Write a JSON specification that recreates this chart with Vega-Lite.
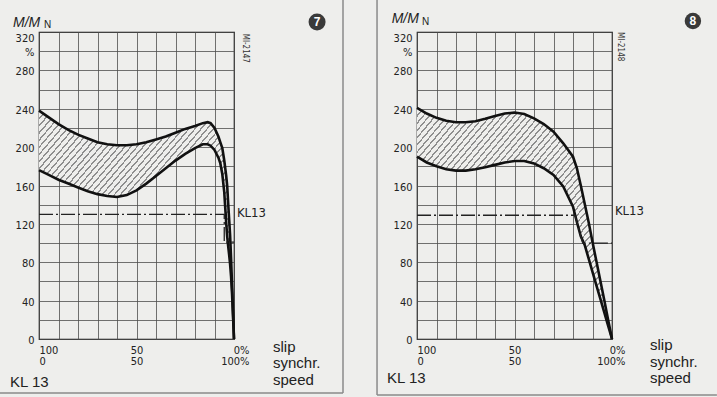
{
  "$schema": "https://vega.github.io/schema/vega-lite/v6.json",
  "autosize": {"type": "none"},
  "padding": {"left": 39, "top": 32, "right": 678, "bottom": 365},
  "background": "#eeeeec",
  "spacing": 183,
  "bounds": "flush",
  "datasets": {
    "left": [
      {"s": 0, "hi": 238, "lo": 176}, {"s": 5, "hi": 231, "lo": 171}, {"s": 10, "hi": 224, "lo": 166},
      {"s": 15, "hi": 218, "lo": 162}, {"s": 20, "hi": 213, "lo": 158}, {"s": 25, "hi": 209, "lo": 154},
      {"s": 30, "hi": 205, "lo": 151}, {"s": 35, "hi": 203, "lo": 149}, {"s": 40, "hi": 202, "lo": 148},
      {"s": 45, "hi": 202, "lo": 150}, {"s": 50, "hi": 203, "lo": 155}, {"s": 55, "hi": 205, "lo": 162},
      {"s": 60, "hi": 208, "lo": 170}, {"s": 65, "hi": 211, "lo": 178}, {"s": 70, "hi": 215, "lo": 186},
      {"s": 75, "hi": 219, "lo": 193}, {"s": 80, "hi": 222, "lo": 199}, {"s": 84, "hi": 225, "lo": 203},
      {"s": 86.5, "hi": 226, "lo": 203}, {"s": 88, "hi": 225, "lo": 201.5}, {"s": 90, "hi": 220, "lo": 197},
      {"s": 92, "hi": 211, "lo": 189}, {"s": 93, "hi": 205, "lo": 183}, {"s": 94, "hi": 199, "lo": 172},
      {"s": 95, "hi": 186, "lo": 153}, {"s": 96, "hi": 170, "lo": 121}, {"s": 96.5, "hi": 160, "lo": 107},
      {"s": 97, "hi": 142, "lo": 97}, {"s": 97.5, "hi": 125, "lo": 88}, {"s": 98, "hi": 108, "lo": 78},
      {"s": 98.5, "hi": 84, "lo": 65}, {"s": 99, "hi": 56, "lo": 47}, {"s": 99.5, "hi": 28, "lo": 24},
      {"s": 100, "hi": 0, "lo": 0}
    ],
    "right": [
      {"s": 0, "hi": 241, "lo": 190}, {"s": 5, "hi": 235, "lo": 184}, {"s": 10, "hi": 230.5, "lo": 180},
      {"s": 15, "hi": 227.5, "lo": 177}, {"s": 20, "hi": 226, "lo": 175.5}, {"s": 25, "hi": 226, "lo": 175.5},
      {"s": 30, "hi": 227, "lo": 177}, {"s": 35, "hi": 229.5, "lo": 179}, {"s": 40, "hi": 232.5, "lo": 181.5},
      {"s": 45, "hi": 235, "lo": 184}, {"s": 50, "hi": 236, "lo": 185.5}, {"s": 55, "hi": 234.5, "lo": 185.5},
      {"s": 60, "hi": 230, "lo": 183}, {"s": 65, "hi": 224, "lo": 178}, {"s": 70, "hi": 216, "lo": 171},
      {"s": 75, "hi": 204, "lo": 159}, {"s": 80, "hi": 190, "lo": 138}, {"s": 82, "hi": 178, "lo": 122},
      {"s": 84, "hi": 160, "lo": 107}, {"s": 86, "hi": 141, "lo": 98}, {"s": 88, "hi": 122, "lo": 84},
      {"s": 90, "hi": 101, "lo": 70}, {"s": 92, "hi": 81, "lo": 56}, {"s": 94, "hi": 61, "lo": 42},
      {"s": 96, "hi": 41, "lo": 28}, {"s": 98, "hi": 20, "lo": 14}, {"s": 100, "hi": 0, "lo": 0}
    ],
    "leftkl": [
      {"i": 0, "s": 0, "m": 130}, {"i": 1, "s": 95, "m": 130}, {"i": 2, "s": 95, "m": 101}, {"i": 3, "s": 100, "m": 101}
    ],
    "rightkl": [
      {"i": 0, "s": 0, "m": 129}, {"i": 1, "s": 81, "m": 129}, {"i": 2, "s": 85, "m": 100}, {"i": 3, "s": 100, "m": 100}
    ],
    "one": [{}]
  },
  "hconcat": [
    {
      "width": 195,
      "height": 307,
      "data": {"name": "left"},
      "layer": [
        {
          "mark": {"type": "area"},
          "encoding": {
            "x": {"field": "s", "type": "quantitative", "scale": {"domain": [0, 100], "nice": false, "zero": false},
              "axis": {
                "labelAlign": {"condition": [{"test": "datum.value == 0", "value": "left"}, {"test": "datum.value == 100", "value": "right"}], "value": "center"},
                "labelOffset": {"condition": {"test": "datum.value == 100", "value": 15}, "value": 0}
              }},
            "y": {"field": "hi", "type": "quantitative", "scale": {"domain": [0, 320], "nice": false, "zero": false},
              "axis": {
                "labelBaseline": {"condition": {"test": "datum.value == 320", "value": "top"}, "value": "middle"},
                "labelOffset": {"condition": {"test": "datum.value == 320", "value": 0}, "value": 1.5}
              }},
            "y2": {"field": "lo"}
          }
        },
        {
          "mark": {"type": "line", "color": "#111111", "strokeWidth": 2.6},
          "encoding": {"x": {"field": "s", "type": "quantitative"}, "y": {"field": "hi", "type": "quantitative"}}
        },
        {
          "mark": {"type": "line", "color": "#111111", "strokeWidth": 2.6},
          "encoding": {"x": {"field": "s", "type": "quantitative"}, "y": {"field": "lo", "type": "quantitative"}}
        },
        {
          "data": {"name": "leftkl"},
          "mark": {"type": "line", "color": "#222222", "strokeWidth": 1.3, "strokeDash": [14, 3, 2, 3]},
          "encoding": {"x": {"field": "s", "type": "quantitative"}, "y": {"field": "m", "type": "quantitative"}, "order": {"field": "i"}}
        },
        {
          "data": {"name": "one"},
          "mark": {"type": "text", "text": "KL13", "align": "left", "baseline": "alphabetic", "font": "Liberation Sans Narrow, DejaVu Sans Condensed, sans-serif", "fontSize": 13, "color": "#222"},
          "encoding": {"x": {"datum": 101.5, "type": "quantitative"}, "y": {"datum": 126.8, "type": "quantitative"}}
        },
        {
          "data": {"name": "one"},
          "mark": {"type": "text", "text": ["slip", "synchr.", "speed"], "align": "left", "baseline": "alphabetic", "font": "Liberation Sans, Arial, sans-serif", "fontSize": 15, "lineHeight": 16.5, "color": "#222"},
          "encoding": {"x": {"datum": 120, "type": "quantitative"}, "y": {"datum": -13.2, "type": "quantitative"}}
        },
        {
          "data": {"name": "one"},
          "mark": {"type": "text", "text": "KL 13", "align": "left", "baseline": "alphabetic", "font": "Liberation Sans, Arial, sans-serif", "fontSize": 15, "color": "#222"},
          "encoding": {"x": {"datum": -14.9, "type": "quantitative"}, "y": {"datum": -49.7, "type": "quantitative"}}
        },
        {
          "data": {"name": "one"},
          "mark": {"type": "text", "text": "M/M", "align": "left", "baseline": "alphabetic", "font": "Liberation Sans, Arial, sans-serif", "fontStyle": "italic", "fontSize": 14, "color": "#222"},
          "encoding": {"x": {"datum": -13.3, "type": "quantitative"}, "y": {"datum": 325.5, "type": "quantitative"}}
        },
        {
          "data": {"name": "one"},
          "mark": {"type": "text", "text": "N", "align": "left", "baseline": "alphabetic", "font": "Liberation Sans, Arial, sans-serif", "fontSize": 10, "color": "#222"},
          "encoding": {"x": {"datum": 2.6, "type": "quantitative"}, "y": {"datum": 323.8, "type": "quantitative"}}
        },
        {
          "data": {"name": "one"},
          "mark": {"type": "text", "text": "MI-2147", "align": "center", "baseline": "middle", "angle": 90, "font": "Liberation Sans Narrow, DejaVu Sans Condensed, sans-serif", "fontSize": 8, "color": "#333"},
          "encoding": {"x": {"datum": 105.6, "type": "quantitative"}, "y": {"datum": 303, "type": "quantitative"}}
        },
        {
          "data": {"name": "one"},
          "mark": {"type": "point", "shape": "circle", "filled": true, "size": 290, "color": "#3a3a3a", "opacity": 1},
          "encoding": {"x": {"datum": 142.6, "type": "quantitative"}, "y": {"datum": 330.4, "type": "quantitative"}}
        },
        {
          "data": {"name": "one"},
          "mark": {"type": "text", "text": "7", "align": "center", "baseline": "middle", "font": "Liberation Sans, Arial, sans-serif", "fontSize": 12, "fontWeight": "bold", "color": "#ffffff"},
          "encoding": {"x": {"datum": 142.6, "type": "quantitative"}, "y": {"datum": 330.4, "type": "quantitative"}}
        },
        {
          "data": {"name": "one"},
          "mark": {"type": "rule", "color": "#8a8a8a", "strokeWidth": 1.5},
          "encoding": {"x": {"datum": 155.9, "type": "quantitative"}, "y": {"datum": 353.3, "type": "quantitative"}, "y2": {"datum": -56.3}}
        },
        {
          "data": {"name": "one"},
          "mark": {"type": "rule", "color": "#8a8a8a", "strokeWidth": 1.5},
          "encoding": {"x": {"datum": -20, "type": "quantitative"}, "x2": {"datum": 155.9}, "y": {"datum": -56.3, "type": "quantitative"}}
        }
      ]
    },
    {
      "width": 195,
      "height": 307,
      "data": {"name": "right"},
      "layer": [
        {
          "mark": {"type": "area"},
          "encoding": {
            "x": {"field": "s", "type": "quantitative", "scale": {"domain": [0, 100], "nice": false, "zero": false},
              "axis": {
                "labelAlign": {"condition": [{"test": "datum.value == 0", "value": "left"}, {"test": "datum.value == 100", "value": "right"}], "value": "center"},
                "labelOffset": {"condition": {"test": "datum.value == 100", "value": 13}, "value": 0}
              }},
            "y": {"field": "hi", "type": "quantitative", "scale": {"domain": [0, 320], "nice": false, "zero": false},
              "axis": {
                "labelBaseline": {"condition": {"test": "datum.value == 320", "value": "top"}, "value": "middle"},
                "labelOffset": {"condition": {"test": "datum.value == 320", "value": 0}, "value": 1.5}
              }},
            "y2": {"field": "lo"}
          }
        },
        {
          "mark": {"type": "line", "color": "#111111", "strokeWidth": 2.6},
          "encoding": {"x": {"field": "s", "type": "quantitative"}, "y": {"field": "hi", "type": "quantitative"}}
        },
        {
          "mark": {"type": "line", "color": "#111111", "strokeWidth": 2.6},
          "encoding": {"x": {"field": "s", "type": "quantitative"}, "y": {"field": "lo", "type": "quantitative"}}
        },
        {
          "data": {"name": "rightkl"},
          "mark": {"type": "line", "color": "#222222", "strokeWidth": 1.3, "strokeDash": [14, 3, 2, 3]},
          "encoding": {"x": {"field": "s", "type": "quantitative"}, "y": {"field": "m", "type": "quantitative"}, "order": {"field": "i"}}
        },
        {
          "data": {"name": "one"},
          "mark": {"type": "text", "text": "KL13", "align": "left", "baseline": "alphabetic", "font": "Liberation Sans Narrow, DejaVu Sans Condensed, sans-serif", "fontSize": 13, "color": "#222"},
          "encoding": {"x": {"datum": 101.5, "type": "quantitative"}, "y": {"datum": 129.2, "type": "quantitative"}}
        },
        {
          "data": {"name": "one"},
          "mark": {"type": "text", "text": ["slip", "synchr.", "speed"], "align": "left", "baseline": "alphabetic", "font": "Liberation Sans, Arial, sans-serif", "fontSize": 15, "lineHeight": 16.5, "color": "#222"},
          "encoding": {"x": {"datum": 119.5, "type": "quantitative"}, "y": {"datum": -11.5, "type": "quantitative"}}
        },
        {
          "data": {"name": "one"},
          "mark": {"type": "text", "text": "KL 13", "align": "left", "baseline": "alphabetic", "font": "Liberation Sans, Arial, sans-serif", "fontSize": 15, "color": "#222"},
          "encoding": {"x": {"datum": -15.4, "type": "quantitative"}, "y": {"datum": -46.2, "type": "quantitative"}}
        },
        {
          "data": {"name": "one"},
          "mark": {"type": "text", "text": "M/M", "align": "left", "baseline": "alphabetic", "font": "Liberation Sans, Arial, sans-serif", "fontStyle": "italic", "fontSize": 14, "color": "#222"},
          "encoding": {"x": {"datum": -13, "type": "quantitative"}, "y": {"datum": 329, "type": "quantitative"}}
        },
        {
          "data": {"name": "one"},
          "mark": {"type": "text", "text": "N", "align": "left", "baseline": "alphabetic", "font": "Liberation Sans, Arial, sans-serif", "fontSize": 10, "color": "#222"},
          "encoding": {"x": {"datum": 2.6, "type": "quantitative"}, "y": {"datum": 327.3, "type": "quantitative"}}
        },
        {
          "data": {"name": "one"},
          "mark": {"type": "text", "text": "MI-2148", "align": "center", "baseline": "middle", "angle": 90, "font": "Liberation Sans Narrow, DejaVu Sans Condensed, sans-serif", "fontSize": 8, "color": "#333"},
          "encoding": {"x": {"datum": 104.1, "type": "quantitative"}, "y": {"datum": 304.7, "type": "quantitative"}}
        },
        {
          "data": {"name": "one"},
          "mark": {"type": "point", "shape": "circle", "filled": true, "size": 270, "color": "#3a3a3a", "opacity": 1},
          "encoding": {"x": {"datum": 141.5, "type": "quantitative"}, "y": {"datum": 331.5, "type": "quantitative"}}
        },
        {
          "data": {"name": "one"},
          "mark": {"type": "text", "text": "8", "align": "center", "baseline": "middle", "font": "Liberation Sans, Arial, sans-serif", "fontSize": 12, "fontWeight": "bold", "color": "#ffffff"},
          "encoding": {"x": {"datum": 141.5, "type": "quantitative"}, "y": {"datum": 331.5, "type": "quantitative"}}
        },
        {
          "data": {"name": "one"},
          "mark": {"type": "rule", "color": "#8a8a8a", "strokeWidth": 1.5},
          "encoding": {"x": {"datum": -20.5, "type": "quantitative"}, "y": {"datum": 353.3, "type": "quantitative"}, "y2": {"datum": -58.4}}
        },
        {
          "data": {"name": "one"},
          "mark": {"type": "rule", "color": "#8a8a8a", "strokeWidth": 1.5},
          "encoding": {"x": {"datum": -20.5, "type": "quantitative"}, "x2": {"datum": 153.8}, "y": {"datum": -58.4, "type": "quantitative"}}
        }
      ]
    }
  ],
  "config": {
    "view": {"stroke": "#111111", "strokeWidth": 1.2},
    "area": {"opacity": 1, "color": {"gradient": "linear", "x1": 0, "y1": 0, "x2": 1, "y2": 1, "stops": [
      {"offset": 0, "color": "#8e8e8e"}, {"offset": 0.0045, "color": "#8e8e8e"}, {"offset": 0.0045, "color": "#eeeeec"}, {"offset": 0.015625, "color": "#eeeeec"},
      {"offset": 0.015625, "color": "#8e8e8e"}, {"offset": 0.020125, "color": "#8e8e8e"}, {"offset": 0.020125, "color": "#eeeeec"}, {"offset": 0.03125, "color": "#eeeeec"},
      {"offset": 0.03125, "color": "#8e8e8e"}, {"offset": 0.03575, "color": "#8e8e8e"}, {"offset": 0.03575, "color": "#eeeeec"}, {"offset": 0.046875, "color": "#eeeeec"},
      {"offset": 0.046875, "color": "#8e8e8e"}, {"offset": 0.051375, "color": "#8e8e8e"}, {"offset": 0.051375, "color": "#eeeeec"}, {"offset": 0.0625, "color": "#eeeeec"},
      {"offset": 0.0625, "color": "#8e8e8e"}, {"offset": 0.067, "color": "#8e8e8e"}, {"offset": 0.067, "color": "#eeeeec"}, {"offset": 0.078125, "color": "#eeeeec"},
      {"offset": 0.078125, "color": "#8e8e8e"}, {"offset": 0.082625, "color": "#8e8e8e"}, {"offset": 0.082625, "color": "#eeeeec"}, {"offset": 0.09375, "color": "#eeeeec"},
      {"offset": 0.09375, "color": "#8e8e8e"}, {"offset": 0.09825, "color": "#8e8e8e"}, {"offset": 0.09825, "color": "#eeeeec"}, {"offset": 0.109375, "color": "#eeeeec"},
      {"offset": 0.109375, "color": "#8e8e8e"}, {"offset": 0.113875, "color": "#8e8e8e"}, {"offset": 0.113875, "color": "#eeeeec"}, {"offset": 0.125, "color": "#eeeeec"},
      {"offset": 0.125, "color": "#8e8e8e"}, {"offset": 0.1295, "color": "#8e8e8e"}, {"offset": 0.1295, "color": "#eeeeec"}, {"offset": 0.140625, "color": "#eeeeec"},
      {"offset": 0.140625, "color": "#8e8e8e"}, {"offset": 0.145125, "color": "#8e8e8e"}, {"offset": 0.145125, "color": "#eeeeec"}, {"offset": 0.15625, "color": "#eeeeec"},
      {"offset": 0.15625, "color": "#8e8e8e"}, {"offset": 0.16075, "color": "#8e8e8e"}, {"offset": 0.16075, "color": "#eeeeec"}, {"offset": 0.171875, "color": "#eeeeec"},
      {"offset": 0.171875, "color": "#8e8e8e"}, {"offset": 0.176375, "color": "#8e8e8e"}, {"offset": 0.176375, "color": "#eeeeec"}, {"offset": 0.1875, "color": "#eeeeec"},
      {"offset": 0.1875, "color": "#8e8e8e"}, {"offset": 0.192, "color": "#8e8e8e"}, {"offset": 0.192, "color": "#eeeeec"}, {"offset": 0.203125, "color": "#eeeeec"},
      {"offset": 0.203125, "color": "#8e8e8e"}, {"offset": 0.207625, "color": "#8e8e8e"}, {"offset": 0.207625, "color": "#eeeeec"}, {"offset": 0.21875, "color": "#eeeeec"},
      {"offset": 0.21875, "color": "#8e8e8e"}, {"offset": 0.22325, "color": "#8e8e8e"}, {"offset": 0.22325, "color": "#eeeeec"}, {"offset": 0.234375, "color": "#eeeeec"},
      {"offset": 0.234375, "color": "#8e8e8e"}, {"offset": 0.238875, "color": "#8e8e8e"}, {"offset": 0.238875, "color": "#eeeeec"}, {"offset": 0.25, "color": "#eeeeec"},
      {"offset": 0.25, "color": "#8e8e8e"}, {"offset": 0.2545, "color": "#8e8e8e"}, {"offset": 0.2545, "color": "#eeeeec"}, {"offset": 0.265625, "color": "#eeeeec"},
      {"offset": 0.265625, "color": "#8e8e8e"}, {"offset": 0.270125, "color": "#8e8e8e"}, {"offset": 0.270125, "color": "#eeeeec"}, {"offset": 0.28125, "color": "#eeeeec"},
      {"offset": 0.28125, "color": "#8e8e8e"}, {"offset": 0.28575, "color": "#8e8e8e"}, {"offset": 0.28575, "color": "#eeeeec"}, {"offset": 0.296875, "color": "#eeeeec"},
      {"offset": 0.296875, "color": "#8e8e8e"}, {"offset": 0.301375, "color": "#8e8e8e"}, {"offset": 0.301375, "color": "#eeeeec"}, {"offset": 0.3125, "color": "#eeeeec"},
      {"offset": 0.3125, "color": "#8e8e8e"}, {"offset": 0.317, "color": "#8e8e8e"}, {"offset": 0.317, "color": "#eeeeec"}, {"offset": 0.328125, "color": "#eeeeec"},
      {"offset": 0.328125, "color": "#8e8e8e"}, {"offset": 0.332625, "color": "#8e8e8e"}, {"offset": 0.332625, "color": "#eeeeec"}, {"offset": 0.34375, "color": "#eeeeec"},
      {"offset": 0.34375, "color": "#8e8e8e"}, {"offset": 0.34825, "color": "#8e8e8e"}, {"offset": 0.34825, "color": "#eeeeec"}, {"offset": 0.359375, "color": "#eeeeec"},
      {"offset": 0.359375, "color": "#8e8e8e"}, {"offset": 0.363875, "color": "#8e8e8e"}, {"offset": 0.363875, "color": "#eeeeec"}, {"offset": 0.375, "color": "#eeeeec"},
      {"offset": 0.375, "color": "#8e8e8e"}, {"offset": 0.3795, "color": "#8e8e8e"}, {"offset": 0.3795, "color": "#eeeeec"}, {"offset": 0.390625, "color": "#eeeeec"},
      {"offset": 0.390625, "color": "#8e8e8e"}, {"offset": 0.395125, "color": "#8e8e8e"}, {"offset": 0.395125, "color": "#eeeeec"}, {"offset": 0.40625, "color": "#eeeeec"},
      {"offset": 0.40625, "color": "#8e8e8e"}, {"offset": 0.41075, "color": "#8e8e8e"}, {"offset": 0.41075, "color": "#eeeeec"}, {"offset": 0.421875, "color": "#eeeeec"},
      {"offset": 0.421875, "color": "#8e8e8e"}, {"offset": 0.426375, "color": "#8e8e8e"}, {"offset": 0.426375, "color": "#eeeeec"}, {"offset": 0.4375, "color": "#eeeeec"},
      {"offset": 0.4375, "color": "#8e8e8e"}, {"offset": 0.442, "color": "#8e8e8e"}, {"offset": 0.442, "color": "#eeeeec"}, {"offset": 0.453125, "color": "#eeeeec"},
      {"offset": 0.453125, "color": "#8e8e8e"}, {"offset": 0.457625, "color": "#8e8e8e"}, {"offset": 0.457625, "color": "#eeeeec"}, {"offset": 0.46875, "color": "#eeeeec"},
      {"offset": 0.46875, "color": "#8e8e8e"}, {"offset": 0.47325, "color": "#8e8e8e"}, {"offset": 0.47325, "color": "#eeeeec"}, {"offset": 0.484375, "color": "#eeeeec"},
      {"offset": 0.484375, "color": "#8e8e8e"}, {"offset": 0.488875, "color": "#8e8e8e"}, {"offset": 0.488875, "color": "#eeeeec"}, {"offset": 0.5, "color": "#eeeeec"},
      {"offset": 0.5, "color": "#8e8e8e"}, {"offset": 0.5045, "color": "#8e8e8e"}, {"offset": 0.5045, "color": "#eeeeec"}, {"offset": 0.515625, "color": "#eeeeec"},
      {"offset": 0.515625, "color": "#8e8e8e"}, {"offset": 0.520125, "color": "#8e8e8e"}, {"offset": 0.520125, "color": "#eeeeec"}, {"offset": 0.53125, "color": "#eeeeec"},
      {"offset": 0.53125, "color": "#8e8e8e"}, {"offset": 0.53575, "color": "#8e8e8e"}, {"offset": 0.53575, "color": "#eeeeec"}, {"offset": 0.546875, "color": "#eeeeec"},
      {"offset": 0.546875, "color": "#8e8e8e"}, {"offset": 0.551375, "color": "#8e8e8e"}, {"offset": 0.551375, "color": "#eeeeec"}, {"offset": 0.5625, "color": "#eeeeec"},
      {"offset": 0.5625, "color": "#8e8e8e"}, {"offset": 0.567, "color": "#8e8e8e"}, {"offset": 0.567, "color": "#eeeeec"}, {"offset": 0.578125, "color": "#eeeeec"},
      {"offset": 0.578125, "color": "#8e8e8e"}, {"offset": 0.582625, "color": "#8e8e8e"}, {"offset": 0.582625, "color": "#eeeeec"}, {"offset": 0.59375, "color": "#eeeeec"},
      {"offset": 0.59375, "color": "#8e8e8e"}, {"offset": 0.59825, "color": "#8e8e8e"}, {"offset": 0.59825, "color": "#eeeeec"}, {"offset": 0.609375, "color": "#eeeeec"},
      {"offset": 0.609375, "color": "#8e8e8e"}, {"offset": 0.613875, "color": "#8e8e8e"}, {"offset": 0.613875, "color": "#eeeeec"}, {"offset": 0.625, "color": "#eeeeec"},
      {"offset": 0.625, "color": "#8e8e8e"}, {"offset": 0.6295, "color": "#8e8e8e"}, {"offset": 0.6295, "color": "#eeeeec"}, {"offset": 0.640625, "color": "#eeeeec"},
      {"offset": 0.640625, "color": "#8e8e8e"}, {"offset": 0.645125, "color": "#8e8e8e"}, {"offset": 0.645125, "color": "#eeeeec"}, {"offset": 0.65625, "color": "#eeeeec"},
      {"offset": 0.65625, "color": "#8e8e8e"}, {"offset": 0.66075, "color": "#8e8e8e"}, {"offset": 0.66075, "color": "#eeeeec"}, {"offset": 0.671875, "color": "#eeeeec"},
      {"offset": 0.671875, "color": "#8e8e8e"}, {"offset": 0.676375, "color": "#8e8e8e"}, {"offset": 0.676375, "color": "#eeeeec"}, {"offset": 0.6875, "color": "#eeeeec"},
      {"offset": 0.6875, "color": "#8e8e8e"}, {"offset": 0.692, "color": "#8e8e8e"}, {"offset": 0.692, "color": "#eeeeec"}, {"offset": 0.703125, "color": "#eeeeec"},
      {"offset": 0.703125, "color": "#8e8e8e"}, {"offset": 0.707625, "color": "#8e8e8e"}, {"offset": 0.707625, "color": "#eeeeec"}, {"offset": 0.71875, "color": "#eeeeec"},
      {"offset": 0.71875, "color": "#8e8e8e"}, {"offset": 0.72325, "color": "#8e8e8e"}, {"offset": 0.72325, "color": "#eeeeec"}, {"offset": 0.734375, "color": "#eeeeec"},
      {"offset": 0.734375, "color": "#8e8e8e"}, {"offset": 0.738875, "color": "#8e8e8e"}, {"offset": 0.738875, "color": "#eeeeec"}, {"offset": 0.75, "color": "#eeeeec"},
      {"offset": 0.75, "color": "#8e8e8e"}, {"offset": 0.7545, "color": "#8e8e8e"}, {"offset": 0.7545, "color": "#eeeeec"}, {"offset": 0.765625, "color": "#eeeeec"},
      {"offset": 0.765625, "color": "#8e8e8e"}, {"offset": 0.770125, "color": "#8e8e8e"}, {"offset": 0.770125, "color": "#eeeeec"}, {"offset": 0.78125, "color": "#eeeeec"},
      {"offset": 0.78125, "color": "#8e8e8e"}, {"offset": 0.78575, "color": "#8e8e8e"}, {"offset": 0.78575, "color": "#eeeeec"}, {"offset": 0.796875, "color": "#eeeeec"},
      {"offset": 0.796875, "color": "#8e8e8e"}, {"offset": 0.801375, "color": "#8e8e8e"}, {"offset": 0.801375, "color": "#eeeeec"}, {"offset": 0.8125, "color": "#eeeeec"},
      {"offset": 0.8125, "color": "#8e8e8e"}, {"offset": 0.817, "color": "#8e8e8e"}, {"offset": 0.817, "color": "#eeeeec"}, {"offset": 0.828125, "color": "#eeeeec"},
      {"offset": 0.828125, "color": "#8e8e8e"}, {"offset": 0.832625, "color": "#8e8e8e"}, {"offset": 0.832625, "color": "#eeeeec"}, {"offset": 0.84375, "color": "#eeeeec"},
      {"offset": 0.84375, "color": "#8e8e8e"}, {"offset": 0.84825, "color": "#8e8e8e"}, {"offset": 0.84825, "color": "#eeeeec"}, {"offset": 0.859375, "color": "#eeeeec"},
      {"offset": 0.859375, "color": "#8e8e8e"}, {"offset": 0.863875, "color": "#8e8e8e"}, {"offset": 0.863875, "color": "#eeeeec"}, {"offset": 0.875, "color": "#eeeeec"},
      {"offset": 0.875, "color": "#8e8e8e"}, {"offset": 0.8795, "color": "#8e8e8e"}, {"offset": 0.8795, "color": "#eeeeec"}, {"offset": 0.890625, "color": "#eeeeec"},
      {"offset": 0.890625, "color": "#8e8e8e"}, {"offset": 0.895125, "color": "#8e8e8e"}, {"offset": 0.895125, "color": "#eeeeec"}, {"offset": 0.90625, "color": "#eeeeec"},
      {"offset": 0.90625, "color": "#8e8e8e"}, {"offset": 0.91075, "color": "#8e8e8e"}, {"offset": 0.91075, "color": "#eeeeec"}, {"offset": 0.921875, "color": "#eeeeec"},
      {"offset": 0.921875, "color": "#8e8e8e"}, {"offset": 0.926375, "color": "#8e8e8e"}, {"offset": 0.926375, "color": "#eeeeec"}, {"offset": 0.9375, "color": "#eeeeec"},
      {"offset": 0.9375, "color": "#8e8e8e"}, {"offset": 0.942, "color": "#8e8e8e"}, {"offset": 0.942, "color": "#eeeeec"}, {"offset": 0.953125, "color": "#eeeeec"},
      {"offset": 0.953125, "color": "#8e8e8e"}, {"offset": 0.957625, "color": "#8e8e8e"}, {"offset": 0.957625, "color": "#eeeeec"}, {"offset": 0.96875, "color": "#eeeeec"},
      {"offset": 0.96875, "color": "#8e8e8e"}, {"offset": 0.97325, "color": "#8e8e8e"}, {"offset": 0.97325, "color": "#eeeeec"}, {"offset": 0.984375, "color": "#eeeeec"},
      {"offset": 0.984375, "color": "#8e8e8e"}, {"offset": 0.988875, "color": "#8e8e8e"}, {"offset": 0.988875, "color": "#eeeeec"}, {"offset": 1, "color": "#eeeeec"}
    ]}},
    "axis": {
      "grid": true, "gridColor": "#4e4e4e", "gridWidth": 0.8, "gridOpacity": 1,
      "domain": false, "ticks": false, "labelOverlap": false, "labelFlush": false, "labelBound": false,
      "labelFont": "Liberation Sans Narrow, DejaVu Sans Condensed, sans-serif",
      "labelFontSize": 11, "labelColor": "#222222",
      "titleColor": "rgba(0,0,0,0)", "titleFontSize": 1
    },
    "axisX": {
      "tickCount": 10,
      "labelExpr": "datum.value == 0 ? ['100', '0'] : datum.value == 50 ? ['50', '50'] : datum.value == 100 ? ['0%', '100%'] : ''",
      "labelBaseline": "top", "labelPadding": 5, "labelLineHeight": 11.5
    },
    "axisY": {
      "tickCount": 16,
      "labelExpr": "datum.value == 300 ? '%' : datum.value % 40 == 0 ? datum.label : ''",
      "labelPadding": 5
    }
  }
}
